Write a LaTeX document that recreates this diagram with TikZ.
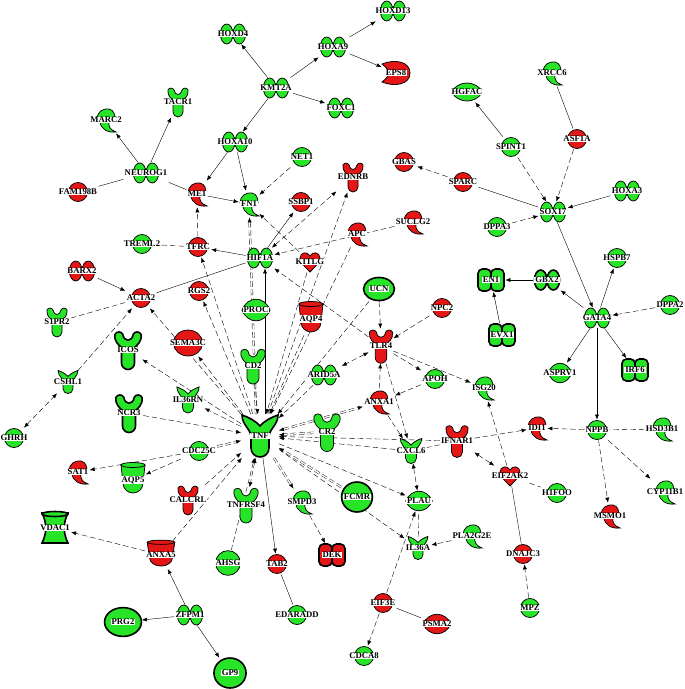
\documentclass[tikz,border=0pt]{standalone}
\usepackage{fontspec}
\setmainfont{Liberation Serif}
\usetikzlibrary{arrows.meta}
\pgfdeclarelayer{edges}
\pgfsetlayers{edges,main}
\definecolor{upg}{RGB}{40,228,40}
\definecolor{dnr}{RGB}{228,22,22}
\newcommand{\lblfont}{\fontsize{8.7}{9}\selectfont\bfseries}

% molecule shapes (drawn round the origin)
\tikzset{
  pics/circ/.style={code={\draw[fill=#1] (0,0) circle (9.5);}},
  pics/treg/.style={code={
    \draw[fill=#1] (-6.3,0) ellipse (6.3 and 10);
    \draw[fill=#1] (6.3,0) ellipse (6.3 and 10);}},
  pics/nuc/.style={code={
    \draw[fill=#1,rounded corners=4.5pt] (-13,-11) rectangle (0,11);
    \draw[fill=#1,rounded corners=4.5pt] (0,-11) rectangle (13,11);}},
  pics/enz/.style={code={
    \draw[fill=#1] (-9,1) .. controls (-9,8) and (-3,12) .. (3,11) .. controls (8,10) and (9,5) .. (9,1) -- cycle;
    \draw[fill=#1] (-6,-1) .. controls (-6,-9) and (2,-13) .. (10,-12) .. controls (4,-10) and (2,-6) .. (3,-1) -- cycle;}},
  pics/rec/.style={code={
    \draw[fill=#1] (-10,12) .. controls (-11,6) and (-6,3) .. (-5,2) -- (-5,-10) arc (180:360:5) -- (5,2)
      .. controls (6,3) and (11,6) .. (10,12) .. controls (9,14.5) and (5,14.5) .. (4,12)
      .. controls (3,6) and (-3,6) .. (-4,12) .. controls (-5,14.5) and (-9,14.5) .. (-10,12) -- cycle;}},
  pics/cyto/.style={code={
    \draw[fill=#1] (-18,21) .. controls (-12,19) and (-4,15) .. (0,10) .. controls (4,15) and (12,19) .. (18,21)
      .. controls (18,11) and (9,7) .. (9,-1) -- (9,-12) arc (0:-180:9) -- (-9,-1)
      .. controls (-9,7) and (-18,11) .. (-18,21) -- cycle;}},
  pics/heart/.style={code={
    \draw[fill=#1] (0,-10) .. controls (-5,-5) and (-10,0) .. (-10,4) .. controls (-10,10) and (-2,11) .. (0,6)
      .. controls (2,11) and (10,10) .. (10,4) .. controls (10,0) and (5,-5) .. (0,-10) -- cycle;}},
  pics/trans/.style={code={
    \draw[fill=#1] (-12,15) -- (12,15) -- (10,-3) arc (0:-180:10) -- cycle;
    \draw[fill=#1] (0,15) ellipse (12 and 2.5);}},
  pics/ell/.style={code={\draw[fill=#1] (0,0) ellipse (15 and 12);}},
  pics/lens/.style={code={
    \draw[fill=#1] (-14,0) .. controls (-8,10) and (8,10) .. (14,0) .. controls (8,-10) and (-8,-10) .. (-14,0) -- cycle;}},
  pics/eps/.style={code={
    \draw[fill=#1] (-14,9) .. controls (-9,5) and (-7,2) .. (-7,0) .. controls (-7,-2) and (-9,-5) .. (-14,-9)
      .. controls (-2,-14) and (14,-12) .. (14,0) .. controls (14,12) and (-2,14) .. (-14,9) -- cycle;}},
  pics/chan/.style={code={
    \draw[fill=#1] (-13,15) -- (13,15) .. controls (8,5) and (8,-5) .. (13,-15) -- (-13,-15)
      .. controls (-8,-5) and (-8,5) .. (-13,15) -- cycle;
    \draw[fill=#1] (0,14) ellipse (13 and 2.5);}}
}

% one molecule: named box, its shape, its label
\newcommand{\gene}[5][]{%
  \node[gene,#1] (#2) at (#3) {\phantom{#2}};
  \pic[#4] at (#3) {#5};
  \node[lbl] at (#3) {#2};}

\begin{document}
\begin{tikzpicture}[x=1pt, y=1pt, line width=0.75pt,
    gene/.style={inner sep=1pt, minimum width=20pt, minimum height=20pt, font=\lblfont},
    lbl/.style={fill=white, inner xsep=1pt, inner ysep=0.4pt, font=\lblfont},
    boxh/.style={minimum height=#1pt},
    boxw/.style={minimum width=#1pt},
    act/.style={-{Latex[length=5pt,width=4pt]}},
    mutual/.style={{Latex[length=5pt,width=4pt]}-{Latex[length=5pt,width=4pt]}},
    ind/.style={dash pattern=on 5.5pt off 3pt},
    twin/.style={double, double distance=1.4pt},
    thickline/.style={line width=1.6pt}]
  \useasboundingbox (0,0) rectangle (685,-689);

  % HOX cluster
  \gene[boxw=26]{HOXD13}{393,-11}{}{treg=upg}
  \gene[boxw=26]{HOXD4}{233,-34}{}{treg=upg}
  \gene[boxw=26]{HOXA9}{333,-47}{}{treg=upg}
  \gene[boxh=22,boxw=28]{EPS8}{396,-73}{}{eps=dnr}
  \gene[boxw=26]{KMT2A}{276,-88}{}{treg=upg}
  \gene[boxw=26]{FOXC1}{341,-108}{}{treg=upg}
  \gene[boxw=26]{HOXA10}{235,-142}{}{treg=upg}

  % top left
  \gene[boxh=30]{TACR1}{178,-102}{}{rec=upg}
  \gene[boxh=26]{MARC2}{106,-120}{}{enz=upg}
  \gene[boxw=26]{NEUROG1}{146,-173}{}{treg=upg}
  \gene{FAM198B}{78,-192}{}{circ=dnr}
  \gene[boxh=26]{ME1}{197,-194}{}{enz=dnr}
  \gene{NET1}{302,-157}{}{circ=upg}
  \gene[boxh=30]{EDNRB}{353,-177}{}{rec=dnr}
  \gene{GBAS}{404,-162}{}{circ=dnr}
  \gene[boxh=26]{FN1}{249,-204}{}{enz=upg}
  \gene{SSBP1}{301,-202}{}{circ=dnr}
  \gene[boxh=26]{APC}{357,-234}{}{enz=dnr}
  \gene[boxh=26]{SUCLG2}{413,-222}{}{enz=dnr}

  % top right
  \gene[boxh=26]{XRCC6}{552,-73}{}{enz=upg}
  \gene[boxh=20,boxw=31]{HGFAC}{467,-92}{xscale=1.1,yscale=1.2}{lens=upg}
  \gene{SPINT1}{511,-147}{}{circ=upg}
  \gene{ASF1A}{577,-139}{}{circ=dnr}
  \gene{SPARC}{463,-182}{}{circ=dnr}
  \gene[boxw=26]{HOXA3}{627,-191}{}{treg=upg}
  \gene[boxw=26]{SOX17}{553,-212}{}{treg=upg}
  \gene{DPPA3}{497,-227}{}{circ=upg}
  \gene{HSPB7}{617,-258}{}{circ=upg}
  \gene[boxh=23,boxw=28]{EN1}{491,-280}{thickline}{nuc=upg}
  \gene[boxw=27]{GBX2}{547,-280}{thickline}{treg=upg}
  \gene[boxw=26]{GATA4}{597,-318}{}{treg=upg}
  \gene{DPPA2}{670,-305}{}{circ=upg}
  \gene[boxh=23,boxw=28]{EVX1}{502,-335}{thickline}{nuc=upg}
  \gene{ASPRV1}{560,-373}{xscale=0.85,yscale=1.3}{lens=upg}
  \gene[boxh=23,boxw=28]{IRF6}{635,-370}{thickline}{nuc=upg}
  \gene[boxh=26]{ISG20}{484,-388}{}{enz=upg}
  \gene[boxh=26]{IDI1}{537,-428}{}{enz=dnr}
  \gene{NPPB}{597,-430}{}{circ=upg}
  \gene[boxh=26]{HSD3B1}{662,-429}{}{enz=upg}
  \gene[boxh=33]{IFNAR1}{457,-441}{scale=1.1}{rec=dnr}

  % left
  \gene{TREML2}{142,-244}{}{circ=upg}
  \gene{TFRC}{198,-247}{}{circ=dnr}
  \gene[boxw=26]{BARX2}{82,-271}{}{treg=dnr}
  \gene{ACTA2}{141,-298}{}{circ=dnr}
  \gene{RGS2}{199,-291}{}{circ=dnr}
  \gene[boxh=30]{S1PR2}{57,-322}{}{rec=upg}
  \gene[boxh=26,boxw=29]{SEMA3C}{188,-343}{xscale=0.97,yscale=1.08}{ell=dnr}
  \gene[boxh=38,boxw=28]{ICOS}{128,-350}{scale=1.3,thickline}{rec=upg}
  \gene[boxh=22]{CSHL1}{68,-382}{scale=0.55}{cyto=upg}
  \gene[boxh=26]{IL36RN}{188,-400}{scale=0.62}{cyto=upg}
  \gene[boxh=38,boxw=28]{NCR3}{129,-413}{scale=1.3,thickline}{rec=upg}
  \gene{GHRH}{14,-438}{}{circ=upg}
  \gene{CDC25C}{199,-451}{}{circ=upg}

  % centre
  \gene[boxw=26]{HIF1A}{260,-258}{}{treg=upg}
  \gene{KITLG}{310,-262}{}{heart=dnr}
  \gene[boxh=24,boxw=32]{UCN}{379,-289}{xscale=1.03,yscale=0.96,thickline}{ell=upg}
  \gene{NPC2}{442,-308}{}{circ=dnr}
  \gene[boxh=22,boxw=28]{PROC}{256,-310}{yscale=1.45}{lens=upg}
  \gene[boxh=32]{AQP4}{311,-319}{}{trans=dnr}
  \gene[boxh=34]{TLR4}{381,-346}{scale=1.15}{rec=dnr}
  \gene[boxh=35]{CD2}{253,-366}{scale=1.2}{rec=upg}
  \gene[boxw=26]{ARID5A}{324,-375}{}{treg=upg}
  \gene{APOH}{435,-379}{}{circ=upg}
  \gene[boxh=26]{ANXA1}{379,-402}{}{enz=dnr}
  \gene[boxh=43,boxw=37]{TNF}{260,-436}{thickline}{cyto=upg}
  \gene[boxh=38,boxw=27]{CR2}{327,-432}{scale=1.3}{rec=upg}
  \gene[boxh=24]{CXCL6}{411,-451}{scale=0.6}{cyto=upg}

  % lower part
  \gene[boxh=35]{TNFRSF4}{246,-505}{scale=1.2}{rec=upg}
  \gene[boxh=26]{SMPD3}{302,-502}{}{enz=upg}
  \gene[boxh=30,boxw=31]{FCMR}{357,-497}{xscale=1.03,yscale=1.25,thickline}{ell=upg}
  \gene[boxh=20,boxw=26]{PLAU}{419,-501}{xscale=0.95,yscale=1.3}{lens=upg}
  \gene[boxh=23,boxw=28]{DEK}{332,-555}{thickline}{nuc=dnr}
  \gene[boxh=22]{IL36A}{418,-548}{scale=0.55}{cyto=upg}
  \gene[boxh=25,boxw=25]{AHSG}{228,-563}{scale=1.3}{circ=upg}
  \gene{TAB2}{277,-564}{}{circ=dnr}
  \gene[boxh=26]{PLA2G2E}{472,-536}{}{enz=upg}
  \gene{EDARADD}{297,-615}{}{circ=upg}
  \gene{EIF3E}{383,-603}{}{circ=dnr}
  \gene[boxh=20,boxw=28]{PSMA2}{437,-624}{yscale=1.3}{lens=dnr}
  \gene{CDCA8}{364,-656}{}{circ=upg}
  \gene[boxh=30,boxw=32]{GP9}{230,-673}{xscale=1.07,yscale=1.25,thickline}{ell=upg}
  \gene[boxh=26]{SAT1}{78,-472}{}{enz=dnr}
  \gene[boxh=32]{AQP5}{133,-480}{}{trans=upg}
  \gene[boxh=30]{CALCRL}{188,-500}{}{rec=dnr}
  \gene[boxh=32,boxw=27]{VDAC1}{55,-528}{thickline}{chan=upg}
  \gene[boxh=27,boxw=28]{ANXA5}{161,-555}{xscale=1.15,yscale=0.85}{trans=dnr}
  \gene[boxw=26]{ZFPM1}{190,-615}{}{treg=upg}
  \gene[boxh=29,boxw=37]{PRG2}{123,-622}{xscale=1.23,yscale=1.2,thickline}{ell=upg}
  \gene{EIF2AK2}{510,-476}{}{heart=dnr}
  \gene{H1FOO}{557,-493}{}{circ=upg}
  \gene[boxh=26]{MSMO1}{610,-516}{}{enz=dnr}
  \gene[boxh=26]{CYP11B1}{665,-492}{}{enz=upg}
  \gene{DNAJC3}{523,-554}{}{circ=dnr}
  \gene{MPZ}{530,-608}{}{circ=upg}

  \begin{pgfonlayer}{edges}
  \fill[white] (0,0) rectangle (685,-689);

  % HOX and NEUROG1 links
  \draw[act] (KMT2A) -- (HOXD4);
  \draw[act] (KMT2A) -- (HOXA9);
  \draw[act] (KMT2A) -- (FOXC1);
  \draw[act] (KMT2A) -- (HOXA10);
  \draw[act] (HOXA9) -- (HOXD13);
  \draw[act] (HOXA9) -- (EPS8);
  \draw[act] (HOXA10) -- (ME1);
  \draw[act] (HOXA10) -- (FN1);
  \draw[act] (NEUROG1) -- (MARC2);
  \draw[act] (NEUROG1) -- (TACR1);
  \draw (NEUROG1) -- (FAM198B);
  \draw (NEUROG1) -- (ME1);
  \draw[act] (ME1) -- (FN1);
  \draw[ind,act] (NET1) -- (FN1);
  \draw[ind,act] (TFRC) -- (ME1);
  \draw[ind,act] (KITLG) -- (FN1);
  \draw[ind] (TREML2) -- (TFRC);

  % HIF1A
  \draw[act] (HIF1A) -- (SSBP1);
  \draw[act] (HIF1A) -- (TFRC);
  \draw (HIF1A) -- (ACTA2);
  \draw[ind,mutual] (HIF1A) -- (EDNRB);
  \draw[ind,act] (SUCLG2) -- (HIF1A);
  \draw[ind,act] (TLR4) -- (HIF1A);

  % ACTA2
  \draw[act] (BARX2) -- (ACTA2);
  \draw[ind] (S1PR2) -- (ACTA2);
  \draw[ind,act] (CSHL1) -- (ACTA2);
  \draw[ind,mutual] (GHRH) -- (CSHL1);

  % TNF hub
  \draw[ind,act,twin] ([xshift=-4pt]TNF.north) -- (FN1);
  \draw[act] ([xshift=5pt]TNF.north) -- ([xshift=5pt]HIF1A.south);
  \draw[ind,act] (TNF) -- (EDNRB);
  \draw[ind,act] (TNF) -- (TFRC);
  \draw[ind,act] (TNF) -- (RGS2);
  \draw[ind,act] (TNF) -- (ACTA2);
  \draw[ind,act] (TNF) -- (SEMA3C);
  \draw[ind,act] (TNF) -- (ICOS);
  \draw[ind,act] (TNF) -- (IL36RN);
  \draw[ind,act] (NCR3) -- (TNF);
  \draw[ind,act,twin] (CDC25C) -- (TNF);
  \draw[ind,act] (CALCRL) -- (TNF);
  \draw[ind,act] (ANXA5) -- (TNF);
  \draw[ind,mutual] (TNF) -- (TNFRSF4);
  \draw[ind,act] (AHSG) -- (TNF);
  \draw[act] (TNF) -- (TAB2);
  \draw[ind,act,twin] (TNF) -- (SMPD3);
  \draw[ind,act,twin] (FCMR) -- (TNF);
  \draw[ind,act] (TNF) -- (PLAU);
  \draw[ind,act] (TNF) -- (IL36A);
  \draw[ind,act] (IFNAR1) -- (TNF);
  \draw[ind,act] (CXCL6) -- (TNF);
  \draw[ind,act,twin] (CR2) -- (TNF);
  \draw[ind,mutual,twin] (TNF) -- (ANXA1);
  \draw[ind,act] (ARID5A) -- (TNF);
  \draw[ind,act] (UCN) -- (TNF);
  \draw[ind,act] (AQP4) -- (TNF);
  \draw[ind,act] (KITLG) -- (TNF);
  \draw[ind,act] (APC) -- (TNF);
  \draw[ind,act] (CD2) -- (TNF);

  % TLR4
  \draw[ind,act] (UCN) -- (TLR4);
  \draw[ind,act] (NPC2) -- (TLR4);
  \draw[ind,mutual] (TLR4) -- (ARID5A);
  \draw[ind,act] (TLR4) -- (APOH);
  \draw[ind,act] (APOH) -- (ANXA1);
  \draw[ind,act] (ANXA1) -- (TLR4);
  \draw[ind,act] (TLR4) -- (CXCL6);
  \draw[ind,act] (ANXA1) -- (CXCL6);
  \draw[ind,act] (TLR4) -- (ISG20);
  \draw[ind] (IFNAR1) -- (CXCL6);
  \draw[ind,mutual] (CXCL6) -- (PLAU);
  \draw[ind,act] (PLA2G2E) -- (IL36A);
  \draw[ind] (IL36A) -- (PLAU);
  \draw[ind,act] (EIF3E) -- (PLAU);
  \draw[ind,act] (EIF3E) -- (CDCA8);
  \draw (EIF3E) -- (PSMA2);
  \draw (TAB2) -- (EDARADD);
  \draw[ind,act] (SMPD3) -- (DEK);

  % lower left
  \draw[ind,act] (CDC25C) -- (SAT1);
  \draw[ind,act] (CDC25C) -- (AQP5);
  \draw[ind,act] (ANXA5) -- (VDAC1);
  \draw[act] (ZFPM1) -- (ANXA5);
  \draw[act] (ZFPM1) -- (PRG2);
  \draw[act] (ZFPM1) -- (GP9);

  % SOX17 and GATA4
  \draw[ind,act] (SPARC) -- (GBAS);
  \draw (SPARC) -- (SOX17);
  \draw[act] (SPINT1) -- (HGFAC);
  \draw[ind,act] (SPINT1) -- (SOX17);
  \draw (ASF1A) -- (XRCC6);
  \draw[ind,act] (ASF1A) -- (SOX17);
  \draw[act] (HOXA3) -- (SOX17);
  \draw[ind,act] (DPPA3) -- (SOX17);
  \draw[act] (SOX17) -- (GATA4);
  \draw[act] (GATA4) -- (GBX2);
  \draw[act] (GATA4) -- (HSPB7);
  \draw[ind,act] (DPPA2) -- (GATA4);
  \draw[act] (GATA4) -- (ASPRV1);
  \draw[act] (GATA4) -- (IRF6);
  \draw[act] (GATA4) -- (NPPB);
  \draw[act] (GBX2) -- (EN1);
  \draw[act] (EVX1) -- (EN1);

  % NPPB, IFNAR1, EIF2AK2
  \draw[ind,act] (NPPB) -- (IDI1);
  \draw[ind] (HSD3B1) -- (NPPB);
  \draw[ind,act] (NPPB) -- (MSMO1);
  \draw[ind,act] (NPPB) -- (CYP11B1);
  \draw[ind,act] (IFNAR1) -- (IDI1);
  \draw[ind,mutual] (IFNAR1) -- (EIF2AK2);
  \draw[ind,act] (EIF2AK2) -- (ISG20);
  \draw[ind] (EIF2AK2) -- (H1FOO);
  \draw (EIF2AK2) -- (DNAJC3);
  \draw[ind,act] (MPZ) -- (DNAJC3);
  \end{pgfonlayer}
\end{tikzpicture}
\end{document}
